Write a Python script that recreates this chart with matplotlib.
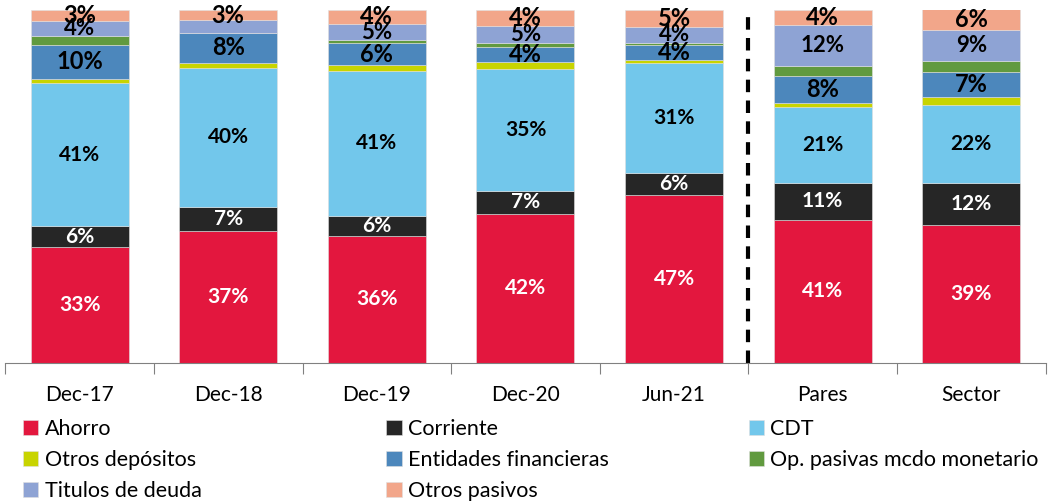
import matplotlib.pyplot as plt
import numpy as np

# Composition of liabilities (% of total)
categories = ['Dec-17', 'Dec-18', 'Dec-19', 'Dec-20', 'Jun-21', 'Pares', 'Sector']

ahorro = [32.8, 37.4, 36.1, 42.2, 47.6, 40.6, 39.1]
corriente = [5.9, 6.8, 5.6, 6.6, 6.3, 10.4, 11.8]
cdt = [40.7, 39.5, 41.1, 34.6, 31.1, 21.4, 22.3]
otros_depositos = [1.1, 1.4, 1.6, 1.8, 0.9, 1.4, 2.2]
entidades = [9.7, 8.5, 6.3, 4.2, 4.1, 7.5, 7.0]
op_pasivas = [2.4, 0.0, 0.7, 1.4, 0.8, 2.8, 3.2]
titulos = [4.4, 3.6, 4.7, 4.8, 4.3, 11.6, 8.7]
otros_pasivos = [3.0, 2.8, 4.0, 4.4, 5.0, 4.2, 5.9]

# labels shown on the bars ('' = no label)
lbl_ahorro = ['33%', '37%', '36%', '42%', '47%', '41%', '39%']
lbl_corriente = ['6%', '7%', '6%', '7%', '6%', '11%', '12%']
lbl_cdt = ['41%', '40%', '41%', '35%', '31%', '21%', '22%']
lbl_entidades = ['10%', '8%', '6%', '4%', '4%', '8%', '7%']
lbl_titulos = ['4%', '', '5%', '5%', '4%', '12%', '9%']
lbl_otros_pasivos = ['3%', '3%', '4%', '4%', '5%', '4%', '6%']

plt.rcParams['font.family'] = ['Lato', 'DejaVu Sans']

series = [
    ('Ahorro', ahorro, '#E3173E', lbl_ahorro, 'white', 15),
    ('Corriente', corriente, '#262626', lbl_corriente, 'white', 15),
    ('CDT', cdt, '#72C7EB', lbl_cdt, 'black', 15),
    ('Otros depósitos', otros_depositos, '#C8D400', None, None, 0),
    ('Entidades financieras', entidades, '#4C87BC', lbl_entidades, 'black', 17),
    ('Op. pasivas mcdo monetario', op_pasivas, '#619A3F', None, None, 0),
    ('Titulos de deuda', titulos, '#8EA3D4', lbl_titulos, 'black', 16),
    ('Otros pasivos', otros_pasivos, '#F2A68A', lbl_otros_pasivos, 'black', 17),
]

fig = plt.figure(figsize=(10.53, 5.04), dpi=100)
ax = fig.add_axes([0.005, 0.280, 0.988, 0.700])

x = np.arange(len(categories))
bottom = np.zeros(len(categories))
handles = {}
for name, vals, color, labels, tcolor, fsize in series:
    vals = np.array(vals)
    bars = ax.bar(x, vals, bottom=bottom, width=0.66, color=color,
                  edgecolor='#e0e0e0', linewidth=0.4, label=name)
    handles[name] = bars
    if labels is not None:
        for i, txt in enumerate(labels):
            if txt:
                ax.text(x[i], bottom[i] + vals[i] / 2, txt, ha='center', va='center',
                        color=tcolor, fontsize=fsize, fontweight='bold')
    bottom += vals

# separator between own history and peers
ax.axvline(4.5, ymin=0, ymax=1, color='black', linestyle=(0, (3, 2)), linewidth=3)

ax.set_xlim(-0.5, len(categories) - 0.5)
ax.set_ylim(0, 100)
for s in ['top', 'right', 'left']:
    ax.spines[s].set_visible(False)
ax.spines['bottom'].set_color('#808080')
ax.set_yticks([])

ax.set_xticks(np.arange(-0.5, len(categories), 1.0))
ax.set_xticklabels([])
ax.tick_params(axis='x', which='major', length=8, color='#808080')
ax.set_xticks(x, minor=True)
ax.set_xticklabels(categories, minor=True, fontsize=15)
ax.tick_params(axis='x', which='minor', length=0, pad=16)

# legend laid out row by row in three columns
cols = [['Ahorro', 'Otros depósitos', 'Titulos de deuda'],
        ['Corriente', 'Entidades financieras', 'Otros pasivos'],
        ['CDT', 'Op. pasivas mcdo monetario']]
xpos = [0.022, 0.367, 0.711]
for names, xp in zip(cols, xpos):
    leg = fig.legend([handles[n] for n in names], names, loc='upper left',
                     bbox_to_anchor=(xp, 0.168), frameon=False, fontsize=15.5,
                     handlelength=0.7, handleheight=0.7, handletextpad=0.3,
                     labelspacing=0.5, borderaxespad=0, borderpad=0)

fig.savefig('out.png', dpi=100)
